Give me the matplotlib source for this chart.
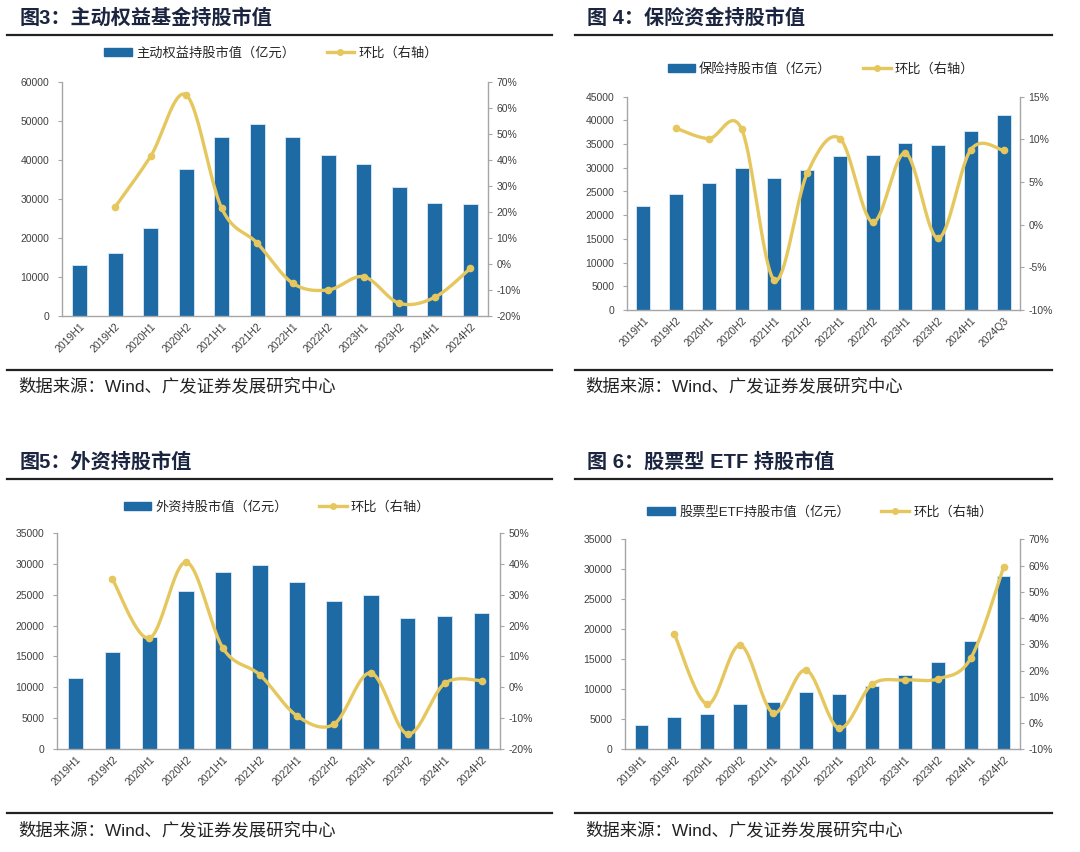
import numpy as np
import matplotlib
matplotlib.use("Agg")
import matplotlib.pyplot as plt
from matplotlib.patches import Patch
from matplotlib.lines import Line2D
from matplotlib.ticker import FuncFormatter, MultipleLocator

plt.rcParams['font.family'] = ['Liberation Sans', 'Noto Sans CJK SC']

# categories
cats_h = ['2019H1', '2019H2', '2020H1', '2020H2', '2021H1', '2021H2',
          '2022H1', '2022H2', '2023H1', '2023H2', '2024H1', '2024H2']
cats_ins = cats_h[:-1] + ['2024Q3']

# 图3 主动权益基金
fund_val = [13100, 16100, 22600, 37600, 45800, 49300, 45800, 41200, 39100, 33200, 29100, 28600]
fund_qoq = [np.nan, 22.0, 41.5, 65.0, 21.4, 8.0, -7.4, -10.0, -4.9, -15.1, -12.8, -1.7]

# 图4 保险资金
ins_val = [21900, 24400, 26700, 29900, 27800, 29500, 32500, 32600, 35300, 34900, 37800, 41100]
ins_qoq = [np.nan, 11.3, 10.1, 11.2, -6.5, 6.0, 10.1, 0.3, 8.4, -1.6, 8.8, 8.7]

# 图5 外资
fx_val = [11600, 15700, 18100, 25500, 28700, 29800, 27100, 23900, 25000, 21200, 21500, 22000]
fx_qoq = [np.nan, 35.0, 15.9, 40.5, 12.6, 4.0, -9.2, -11.9, 4.7, -15.1, 1.3, 2.2]

# 图6 股票型ETF
etf_val = [4050, 5400, 5900, 7550, 7900, 9550, 9300, 10600, 12400, 14500, 18100, 28900]
etf_qoq = [np.nan, 33.9, 7.2, 29.7, 3.9, 20.2, -2.0, 14.7, 16.4, 16.8, 24.6, 59.3]

BLUE = '#1d6aa5'
GOLD = '#e6c75e'
GREY = '#a6a6a6'
TXT = '#404040'
NAVY = '#1b2540'

W, H = 1080, 852
fig = plt.figure(figsize=(W / 100, H / 100), dpi=100)


def smooth(x, y, n=24):
    # Excel-style smoothed line (Catmull-Rom as cubic Bezier)
    pts = np.column_stack([x, y])
    out = []
    for i in range(len(pts) - 1):
        p0 = pts[max(i - 1, 0)]
        p1 = pts[i]
        p2 = pts[i + 1]
        p3 = pts[min(i + 2, len(pts) - 1)]
        c1 = p1 + (p2 - p0) / 6
        c2 = p2 - (p3 - p1) / 6
        t = np.linspace(0, 1, n)[:, None]
        out.append((1 - t) ** 3 * p1 + 3 * (1 - t) ** 2 * t * c1 + 3 * (1 - t) * t ** 2 * c2 + t ** 3 * p2)
    return np.vstack(out)


def hline(x0, x1, y, lw=1.6):
    fig.add_artist(Line2D([x0 / W, x1 / W], [1 - y / H, 1 - y / H], color='#222222', lw=lw))


def panel(box, cats, vals, qoq, ylim, ystep, rlim, rstep, title, tx, ty,
          leg_name, leg_xy, rule, src_rule_y, src_y):
    x0, x1, yt, yb = box
    ax = fig.add_axes([x0 / W, 1 - yb / H, (x1 - x0) / W, (yb - yt) / H])
    xs = np.arange(len(cats))
    ax.bar(xs, vals, width=0.42, color=BLUE, edgecolor='#dce9f5', linewidth=0.6, zorder=2)
    ax.set_xlim(-0.5, len(cats) - 0.5)
    ax.set_ylim(*ylim)
    ax.yaxis.set_major_locator(MultipleLocator(ystep))
    ax.set_xticks(xs)
    ax.set_xticklabels(cats, rotation=45, ha='right', rotation_mode='anchor',
                       fontsize=7.5, color=TXT)
    ax.tick_params(axis='x', length=0, pad=4)
    ax.tick_params(axis='y', length=3, color=GREY, labelsize=7.5, labelcolor=TXT, pad=6)
    for s in ['top', 'right']:
        ax.spines[s].set_visible(False)
    for s in ['left', 'bottom']:
        ax.spines[s].set_color(GREY)
        ax.spines[s].set_linewidth(1.0)

    ax2 = ax.twinx()
    ax2.set_ylim(*rlim)
    ax2.yaxis.set_major_locator(MultipleLocator(rstep))
    ax2.yaxis.set_major_formatter(FuncFormatter(lambda v, p: '%d%%' % round(v)))
    ax2.tick_params(axis='y', length=3, color=GREY, labelsize=7.5, labelcolor=TXT, pad=3)
    for s in ['top', 'left', 'bottom']:
        ax2.spines[s].set_visible(False)
    ax2.spines['right'].set_color(GREY)
    ax2.spines['right'].set_linewidth(1.0)

    q = np.array(qoq, dtype=float)
    ok = ~np.isnan(q)
    curve = smooth(xs[ok], q[ok])
    ax2.plot(curve[:, 0], curve[:, 1], color=GOLD, lw=2.4, solid_capstyle='round', zorder=3)
    ax2.plot(xs[ok], q[ok], 'o', color=GOLD, ms=4.5, zorder=4)

    handles = [Patch(color=BLUE),
               Line2D([], [], color=GOLD, lw=2.4, marker='o', ms=4)]
    fig.legend(handles, [leg_name, '环比（右轴）'], loc='center',
               bbox_to_anchor=(leg_xy[0] / W, 1 - leg_xy[1] / H), ncol=2, frameon=False,
               fontsize=9.5, handlelength=2.1, handleheight=0.6, handletextpad=0.3,
               columnspacing=2.4, labelcolor='#262626')

    fig.text(tx / W, 1 - ty / H, title, fontsize=14.5, fontweight='bold', color=NAVY,
             va='center', ha='left')
    hline(rule[0], rule[1], rule[2])
    hline(rule[0], rule[1], src_rule_y)
    fig.text((tx - 2) / W, 1 - src_y / H, '数据来源：Wind、广发证券发展研究中心',
             fontsize=12.5, color='#222222', va='center', ha='left')


panel((62, 488, 82, 316), cats_h, fund_val, fund_qoq, (0, 60000), 10000, (-20, 70), 10,
      '图3：主动权益基金持股市值', 20, 18, '主动权益持股市值（亿元）', (271, 53),
      (7, 552, 35), 370, 386)
panel((627, 1020, 96.7, 310), cats_ins, ins_val, ins_qoq, (0, 45000), 5000, (-10, 15), 5,
      '图 4：保险资金持股市值', 587, 18, '保险持股市值（亿元）', (821, 69),
      (575, 1052, 35), 370, 386)
panel((57, 500, 532.7, 749.3), cats_h, fx_val, fx_qoq, (0, 35000), 5000, (-20, 50), 10,
      '图5：外资持股市值', 20, 462, '外资持股市值（亿元）', (277, 507),
      (7, 552, 479), 813, 830)
panel((625, 1020, 539.3, 749.3), cats_h, etf_val, etf_qoq, (0, 35000), 5000, (-10, 70), 10,
      '图 6：股票型 ETF 持股市值', 587, 462, '股票型ETF持股市值（亿元）', (820, 512),
      (575, 1052, 479), 813, 830)

fig.savefig('out.png', dpi=100, facecolor='white')
